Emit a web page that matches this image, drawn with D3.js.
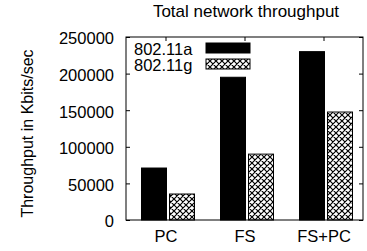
<!DOCTYPE html>
<html>
<head>
<meta charset="utf-8">
<script src="https://cdn.jsdelivr.net/npm/d3@7"></script>
<style>
  body { margin: 0; background: #fff; }
  svg { display: block; font-family: "Liberation Sans", Arial, sans-serif; }
  text { fill: #000; }
</style>
</head>
<body>
<svg id="chart"></svg>
<script>
// values
const categories = ["PC", "FS", "FS+PC"];
const seriesNames = ["802.11a", "802.11g"];
const values_a = [71000, 195000, 230000];
const values_g = [35500, 90000, 147500];
const yTicks = [0, 50000, 100000, 150000, 200000, 250000];

const config = {
  width: 367,
  height: 251,
  margin: { top: 37, right: 4, bottom: 31, left: 126 },
};

const svg = d3.select("#chart")
  .attr("width", config.width)
  .attr("height", config.height);

const innerW = config.width - config.margin.left - config.margin.right;
const innerH = config.height - config.margin.top - config.margin.bottom;

// hatch pattern for second series
const defs = svg.append("defs");
const pat = defs.append("pattern")
  .attr("id", "hatch")
  .attr("patternUnits", "userSpaceOnUse")
  .attr("width", 6)
  .attr("height", 6);
pat.append("rect").attr("width", 6).attr("height", 6).attr("fill", "#fff");
pat.append("path")
  .attr("d", "M0,0L6,6M6,0L0,6M-1,5L1,7M5,-1L7,1")
  .attr("stroke", "#000")
  .attr("stroke-width", 1.2);

const xScale = d3.scaleLinear().domain([-0.5, categories.length - 0.5]).range([0, innerW]);
const yScale = d3.scaleLinear().domain([0, 250000]).range([innerH, 0]);

const chart = svg.append("g")
  .attr("transform", `translate(${config.margin.left},${config.margin.top})`);

// bar offsets relative to the category position (in category units)
const unit = xScale(1) - xScale(0);
const series = [
  { name: seriesNames[0], values: values_a, from: -24 / unit, to: 1 / unit, fill: "#000" },
  { name: seriesNames[1], values: values_g, from: 4 / unit, to: 29 / unit, fill: "url(#hatch)" },
];

series.forEach((s) => {
  chart.selectAll(null)
    .data(s.values)
    .join("rect")
    .attr("x", (d, i) => xScale(i + s.from))
    .attr("width", (d, i) => xScale(i + s.to) - xScale(i + s.from))
    .attr("y", (d) => yScale(d))
    .attr("height", (d) => innerH - yScale(d))
    .attr("fill", s.fill)
    .attr("stroke", "#000")
    .attr("stroke-width", 1);
});

// axes, ticks inward like the original
const fontSize = "16.5px";

const yAxisL = chart.append("g")
  .call(d3.axisLeft(yScale).tickValues(yTicks).tickFormat(d3.format("d"))
    .tickSizeInner(-4).tickSizeOuter(0).tickPadding(12));
yAxisL.selectAll(".tick text").attr("font-size", fontSize).attr("dy", "0.42em");

const yAxisR = chart.append("g")
  .attr("transform", `translate(${innerW},0)`)
  .call(d3.axisRight(yScale).tickValues(yTicks).tickFormat("")
    .tickSizeInner(-4).tickSizeOuter(0));

const xAxisB = chart.append("g")
  .attr("transform", `translate(0,${innerH})`)
  .call(d3.axisBottom(xScale).tickValues(d3.range(categories.length))
    .tickFormat((i) => categories[i])
    .tickSizeInner(-4).tickSizeOuter(0).tickPadding(10));
xAxisB.selectAll(".tick text").attr("font-size", fontSize);

const xAxisT = chart.append("g")
  .call(d3.axisTop(xScale).tickValues(d3.range(categories.length))
    .tickFormat("").tickSizeInner(-4).tickSizeOuter(0));

[yAxisL, yAxisR, xAxisB, xAxisT].forEach((g) => {
  g.select(".domain").remove();
  g.selectAll(".tick line").attr("stroke", "#000");
  g.selectAll(".tick text").attr("fill", "#000").attr("font-family", null);
  g.attr("font-family", null);
});

// frame
chart.append("rect")
  .attr("width", innerW)
  .attr("height", innerH)
  .attr("fill", "none")
  .attr("stroke", "#000")
  .attr("stroke-width", 1);

// legend
const legend = chart.append("g");
series.forEach((s, i) => {
  const y0 = 6 + i * 16;
  legend.append("text")
    .attr("x", 8)
    .attr("y", y0 + 12)
    .attr("font-size", fontSize)
    .text(s.name);
  legend.append("rect")
    .attr("x", 80)
    .attr("y", y0)
    .attr("width", 44)
    .attr("height", 10)
    .attr("fill", s.fill)
    .attr("stroke", "#000")
    .attr("stroke-width", 1);
});

// title and y label
svg.append("text")
  .attr("x", 246)
  .attr("y", 17)
  .attr("text-anchor", "middle")
  .attr("font-size", "17px")
  .text("Total network throughput");

svg.append("text")
  .attr("transform", `translate(33,${config.margin.top + innerH / 2 + 5}) rotate(-90)`)
  .attr("text-anchor", "middle")
  .attr("font-size", "16px")
  .text("Throughput in Kbits/sec");
</script>
</body>
</html>
